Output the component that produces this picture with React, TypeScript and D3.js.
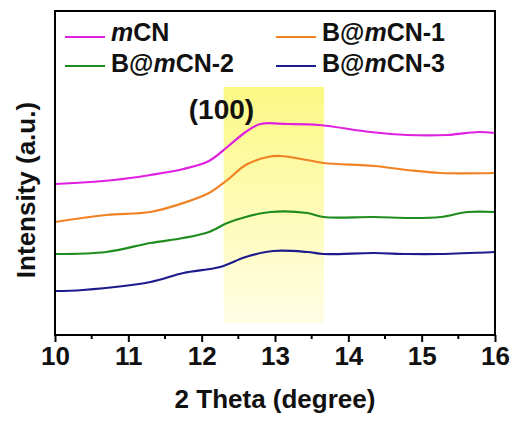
import React, { useEffect, useRef } from "react";
import * as d3 from "d3";

// values (intensity in arbitrary units)
const seriesNames = ["mCN", "B@mCN-1", "B@mCN-2", "B@mCN-3"];
const seriesColors = ["#e020e0", "#f08224", "#1e8c1e", "#1c1c8c"];

const mcnTheta = [10, 10.8, 11.3, 11.75, 12.1, 12.35, 12.6, 12.8, 13.17, 13.6, 14.3, 14.8, 15.35, 15.77, 16];
const mcnIntensity = [151, 155, 160, 166, 174, 188, 203, 211, 211, 210, 203, 200, 200, 203, 202];

const b1Theta = [10, 10.7, 11.3, 11.75, 12.1, 12.35, 12.6, 12.9, 13.07, 13.44, 13.66, 14.35, 14.8, 15.26, 16];
const b1Intensity = [113, 120, 123, 132, 142, 155, 170, 178, 179, 175, 172, 169, 165, 162, 162];

const b2Theta = [10, 10.7, 11.3, 11.75, 12.1, 12.35, 12.6, 12.94, 13.44, 13.66, 14.35, 14.85, 15.26, 15.63, 16];
const b2Intensity = [81, 83, 92, 97, 103, 112, 118, 123, 122, 118, 118, 117, 118, 123, 123];

const b3Theta = [10, 10.38, 11.3, 11.75, 12.25, 12.6, 12.98, 13.44, 13.66, 14.35, 14.8, 15.26, 16];
const b3Intensity = [44, 45, 53, 62, 68, 78, 84, 83, 81, 82, 81, 81, 83];

const xTicks = [10, 11, 12, 13, 14, 15, 16];
const peakLabel = "(100)";
const bandTheta = [12.3, 13.67];
const bandIntensity = [12, 248];

const font = "'Liberation Sans', Arial, sans-serif";

const App: React.FC = () => {
  const svgRef = useRef<SVGSVGElement>(null);

  useEffect(() => {
    if (!svgRef.current) return;
    d3.select(svgRef.current).selectAll("*").remove();

    const width = 515;
    const height = 421;
    const margin = { top: 11, right: 20, bottom: 86, left: 55 };
    const innerW = width - margin.left - margin.right;
    const innerH = height - margin.top - margin.bottom;

    const svg = d3.select(svgRef.current).attr("width", width).attr("height", height);

    const x = d3.scaleLinear().domain([10, 16]).range([margin.left, margin.left + innerW]);
    const y = d3.scaleLinear().domain([0, 324]).range([margin.top + innerH, margin.top]);

    // highlighted band
    const grad = svg
      .append("defs")
      .append("linearGradient")
      .attr("id", "band")
      .attr("x1", 0)
      .attr("y1", 0)
      .attr("x2", 0)
      .attr("y2", 1);
    grad.append("stop").attr("offset", "0%").attr("stop-color", "#fcf884");
    grad.append("stop").attr("offset", "100%").attr("stop-color", "#fffee6");

    svg
      .append("rect")
      .attr("x", x(bandTheta[0]))
      .attr("y", y(bandIntensity[1]))
      .attr("width", x(bandTheta[1]) - x(bandTheta[0]))
      .attr("height", y(bandIntensity[0]) - y(bandIntensity[1]))
      .attr("fill", "url(#band)");

    svg
      .append("text")
      .attr("x", x(12.27))
      .attr("y", y(216))
      .attr("text-anchor", "middle")
      .attr("font-family", font)
      .attr("font-weight", "bold")
      .attr("font-size", 28)
      .attr("fill", "#111")
      .text(peakLabel);

    // curves
    const all = [
      [mcnTheta, mcnIntensity],
      [b1Theta, b1Intensity],
      [b2Theta, b2Intensity],
      [b3Theta, b3Intensity],
    ];
    const line = d3
      .line<[number, number]>()
      .x((d) => x(d[0]))
      .y((d) => y(d[1]))
      .curve(d3.curveCatmullRom.alpha(0.5));

    all.forEach(([t, v], i) => {
      const pts = t.map((tt, j) => [tt, v[j]] as [number, number]);
      svg
        .append("path")
        .attr("d", line(pts)!)
        .attr("fill", "none")
        .attr("stroke", seriesColors[i])
        .attr("stroke-width", 2.2);
    });

    // frame
    svg
      .append("rect")
      .attr("x", margin.left)
      .attr("y", margin.top)
      .attr("width", innerW)
      .attr("height", innerH)
      .attr("fill", "none")
      .attr("stroke", "#000")
      .attr("stroke-width", 2);

    // bottom axis
    const axis = svg.append("g").attr("transform", `translate(0,${margin.top + innerH})`);
    axis
      .call(d3.axisBottom(x).tickValues(xTicks).tickSize(7).tickSizeOuter(0).tickFormat(d3.format("d")))
      .call((g) => g.select(".domain").remove());
    axis.selectAll(".tick line").attr("stroke", "#000").attr("stroke-width", 2);
    axis
      .selectAll(".tick text")
      .attr("font-family", font)
      .attr("font-weight", "bold")
      .attr("font-size", 26)
      .attr("fill", "#111")
      .attr("y", 12)
      .attr("dy", "0.71em");

    axis
      .selectAll(".minor")
      .data(d3.range(10.5, 16, 1))
      .enter()
      .append("line")
      .attr("x1", (d) => x(d))
      .attr("x2", (d) => x(d))
      .attr("y1", 0)
      .attr("y2", 4)
      .attr("stroke", "#000")
      .attr("stroke-width", 2);

    svg
      .append("text")
      .attr("x", 275)
      .attr("y", 408)
      .attr("text-anchor", "middle")
      .attr("font-family", font)
      .attr("font-weight", "bold")
      .attr("font-size", 26)
      .attr("fill", "#111")
      .text("2 Theta (degree)");

    svg
      .append("text")
      .attr("transform", "translate(35,190) rotate(-90)")
      .attr("text-anchor", "middle")
      .attr("font-family", font)
      .attr("font-weight", "bold")
      .attr("font-size", 26)
      .attr("fill", "#111")
      .text("Intensity (a.u.)");

    // legend, two columns
    const legend = svg.append("g");
    seriesNames.forEach((name, i) => {
      const col = i % 2;
      const row = Math.floor(i / 2);
      const lx = col === 0 ? 65 : 276;
      const ly = 37 + row * 29;
      legend
        .append("line")
        .attr("x1", lx)
        .attr("x2", lx + 40)
        .attr("y1", ly)
        .attr("y2", ly)
        .attr("stroke", seriesColors[i])
        .attr("stroke-width", 2);
      const parts = name.split("m");
      const txt = legend
        .append("text")
        .attr("x", lx + 46)
        .attr("y", ly + 4 + row * 2)
        .attr("font-family", font)
        .attr("font-weight", "bold")
        .attr("font-size", 25)
        .attr("fill", "#111");
      txt.append("tspan").text(parts[0]);
      txt.append("tspan").attr("font-style", "italic").text("m");
      txt.append("tspan").text(parts[1]);
    });
  }, []);

  return (
    <div style={{ position: "absolute", left: 0, top: 0 }}>
      <svg ref={svgRef} style={{ display: "block", background: "#fff" }} />
    </div>
  );
};

export default App;
